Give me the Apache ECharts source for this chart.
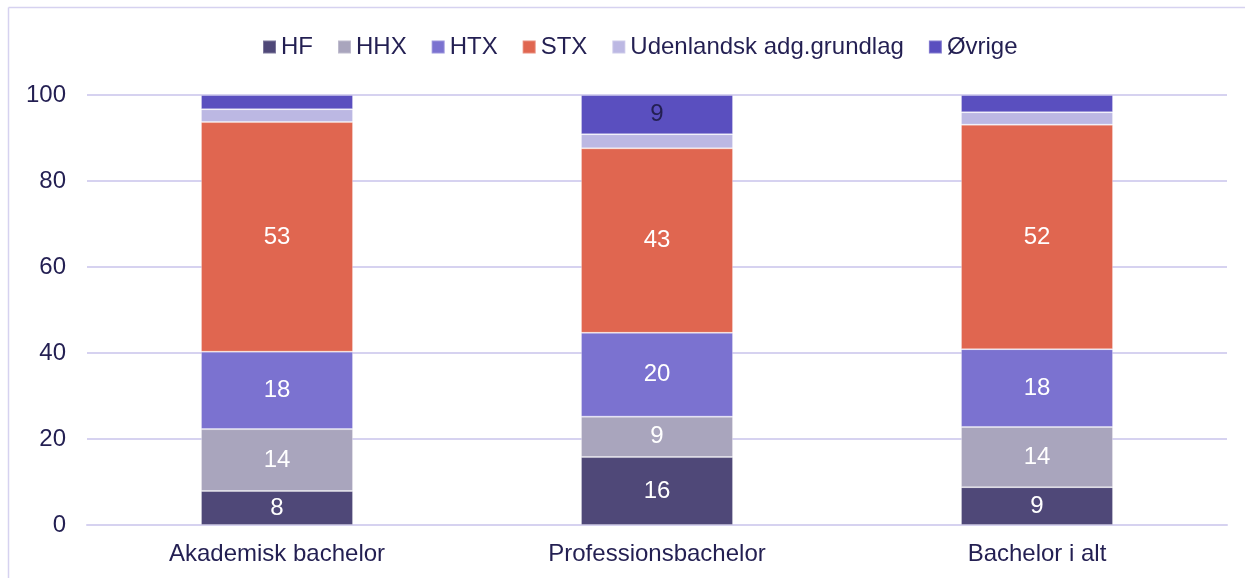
<!DOCTYPE html>
<html>
<head>
<meta charset="utf-8">
<script src="https://cdn.jsdelivr.net/npm/echarts@6/dist/echarts.min.js"></script>
<style>html,body{margin:0;padding:0;background:#fff}#c{width:1245px;height:578px}</style>
</head>
<body>
<div id="c"></div>
<script>
const categories = ['Akademisk bachelor', 'Professionsbachelor', 'Bachelor i alt'];
const seriesNames = ['HF', 'HHX', 'HTX', 'STX', 'Udenlandsk adg.grundlag', 'Øvrige'];
const hf = [7.9, 15.8, 8.8];
const hhx = [14.4, 9.4, 14.0];
const htx = [18.0, 19.5, 18.1];
const stx = [53.4, 42.9, 52.2];
const udenl = [3.0, 3.3, 2.9];
const ovrige = [3.3, 9.1, 4.0];
const yTicks = [0, 20, 40, 60, 80, 100];

const colors = ['#4f4878', '#a9a5bd', '#7b72d0', '#e06650', '#bcb8e3', '#5a4fbf'];
const labelColors = ['#ffffff', '#ffffff', '#ffffff', '#ffffff', '#231f52', '#231f52'];
const values = [hf, hhx, htx, stx, udenl, ovrige];
const textColor = '#231f52';
const font = 'Liberation Sans, Arial, sans-serif';
const fs = 24;

const chart = echarts.init(document.getElementById('c'), null, {renderer: 'canvas'});
chart.setOption({
  animation: false,
  backgroundColor: '#ffffff',
  color: colors,
  textStyle: {fontFamily: font},
  graphic: [
    {type: 'line', shape: {x1: 8.5, y1: 7.5, x2: 1245, y2: 7.5}, style: {stroke: '#d6d2f0', lineWidth: 1.5}},
    {type: 'line', shape: {x1: 8.5, y1: 7.5, x2: 8.5, y2: 578}, style: {stroke: '#d6d2f0', lineWidth: 1.5}}
  ],
  legend: {
    left: 257, top: 30,
    itemWidth: 13, itemHeight: 13, itemGap: 24,
    icon: 'rect',
    textStyle: {fontSize: fs, color: textColor, fontFamily: font, padding: [0, 0, 0, 0]},
    data: seriesNames
  },
  grid: {left: 87, right: 18, top: 95, bottom: 53, containLabel: false},
  xAxis: {
    type: 'category', data: categories,
    axisLine: {show: true, lineStyle: {color: '#d6d2f0', width: 2}},
    axisTick: {show: false},
    axisLabel: {fontSize: fs, color: textColor, margin: 17, fontFamily: font}
  },
  yAxis: {
    type: 'value', min: 0, max: 100, interval: 20,
    axisLine: {show: false}, axisTick: {show: false},
    splitLine: {lineStyle: {color: '#d6d2f0', width: 2}},
    axisLabel: {fontSize: fs, color: textColor, margin: 21, fontFamily: font,
      formatter: v => yTicks.includes(v) ? String(v) : ''}
  },
  series: seriesNames.map((name, i) => ({
    name, type: 'bar', stack: 'total', barWidth: '40%',
    data: values[i],
    itemStyle: {color: colors[i], borderColor: 'rgba(255,255,255,0.25)', borderWidth: 1},
    label: {
      show: true, position: 'inside', fontSize: fs, color: labelColors[i], fontFamily: font,
      formatter: p => p.value >= 6 ? String(Math.round(p.value)) : ''
    }
  }))
});
</script>
</body>
</html>
